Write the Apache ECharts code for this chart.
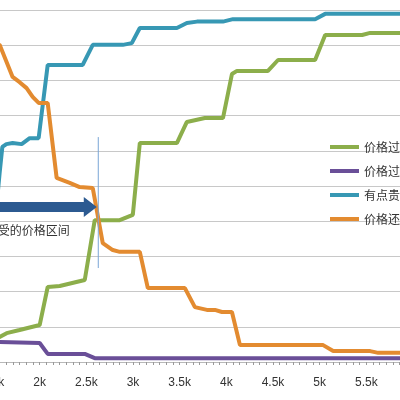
<!DOCTYPE html>
<html lang="zh">
<head>
    <meta charset="UTF-8">
    <title>价格敏感度</title>
    <style>
        html,body{
            padding: 0;
            margin: 0;
            width: 100%;
            height: 100%;
            background: #fff;
        }
        .chart{
            width: 400px;
            height: 400px;
        }
    </style>
    <script src="https://cdn.jsdelivr.net/npm/echarts@6/dist/echarts.min.js"></script>
</head>
<body>
<div class="chart"></div>
<script>
    // 价格点 (元) 和 累计百分比
    let tooHighX = [1500, 1571, 1646, 1785, 2000, 2086, 2215, 2483, 2590, 2858, 2998, 3073, 3470, 3577, 3770, 3964, 4060, 4114, 4446, 4554, 4951, 5059, 5455, 5541, 6000];
    let tooHighY = [6.8, 7.1, 8.2, 9.1, 10.5, 21.3, 21.6, 23.3, 40.3, 40.3, 41.8, 62.2, 62.2, 68.2, 69.3, 69.3, 81.8, 82.7, 82.7, 85.8, 85.8, 92.9, 92.9, 93.5, 93.5];

    let tooCheapX = [1500, 1571, 2000, 2086, 2483, 2590, 6000];
    let tooCheapY = [5.7, 5.7, 5.4, 2.3, 2.3, 1.1, 1.1];

    let expensiveX = [1540, 1571, 1600, 1643, 1710, 1807, 1893, 1989, 2086, 2461, 2569, 2891, 2987, 3073, 3470, 3577, 3685, 3964, 4071, 4951, 5059, 6000];
    let expensiveY = [45, 53.7, 61.1, 61.9, 62.2, 61.9, 63.6, 63.6, 84.4, 84.4, 90.1, 90.1, 90.6, 94.9, 94.9, 96.3, 96.7, 96.7, 97.4, 97.4, 98.9, 98.9];

    let okX = [1500, 1571, 1710, 1785, 1860, 1925, 1989, 2086, 2182, 2322, 2429, 2569, 2676, 2783, 2858, 3073, 3159, 3556, 3663, 3792, 3878, 3953, 4060, 4146, 5037, 5145, 5541, 5627, 6000];
    let okY = [90.1, 90.1, 81.0, 79.5, 77.8, 75.3, 73.6, 73.6, 52.3, 50.9, 49.7, 49.4, 33.8, 31.8, 31.3, 31.3, 21.0, 21.0, 15.6, 14.8, 14.8, 14.2, 14.2, 4.8, 4.8, 3.1, 3.1, 2.6, 2.6];

    let names = ['价格过高', '价格过低', '有点贵', '价格还可以'];
    let colors = ['#8cae4b', '#6a4f98', '#3798b4', '#e38b30'];

    // 可接受区间的标注 (价格, 百分比)
    let arrowTip = [2612, 44];
    let markX = 2628;
    let markFrom = 63.9;
    let markTo = 26.7;

    let zip = (xs, ys) => xs.map((x, i) => [x, ys[i]]);
    let lines = [
        zip(tooHighX, tooHighY),
        zip(tooCheapX, tooCheapY),
        zip(expensiveX, expensiveY),
        zip(okX, okY)
    ];

    let chart = echarts.init(document.querySelector('.chart'));

    let series = names.map((name, i) => ({
        name: name,
        type: 'line',
        data: lines[i],
        showSymbol: false,
        symbol: 'none',
        lineStyle: {width: 4, color: colors[i]},
        itemStyle: {color: colors[i]}
    }));

    let option = {
        animation: false,
        grid: {left: -7, right: -13, top: 10, bottom: 38, outerBoundsMode: 'none', containLabel: false},
        legend: {
            orient: 'vertical',
            left: 325,
            top: 135,
            icon: 'rect',
            itemWidth: 29,
            itemHeight: 4,
            itemGap: 10,
            textStyle: {
                fontFamily: 'Noto Sans CJK SC',
                fontSize: 12,
                lineHeight: 14,
                color: '#333'
            },
            data: names
        },
        xAxis: {
            type: 'value',
            min: 1500,
            max: 6000,
            interval: 500,
            axisLine: {lineStyle: {color: '#b8b8b8'}},
            axisTick: {show: true, length: 3, lineStyle: {color: '#999'}},
            minorTick: {show: true, splitNumber: 7, length: 3, lineStyle: {color: '#999'}},
            splitLine: {show: false},
            axisLabel: {
                margin: 15,
                fontSize: 12,
                color: '#333',
                fontFamily: 'Liberation Sans',
                hideOverlap: false,
                formatter: v => (v / 1000) + 'k'
            }
        },
        yAxis: {
            type: 'value',
            min: 0,
            max: 100,
            interval: 10,
            axisLine: {show: false},
            axisTick: {show: false},
            axisLabel: {show: false},
            splitLine: {lineStyle: {color: '#c8c8c8', width: 1}}
        },
        series: series
    };
    chart.setOption(option);

    // 标注：箭头、文字、竖线
    let toPx = p => chart.convertToPixel({xAxisIndex: 0, yAxisIndex: 0}, p);
    let tip = toPx(arrowTip);
    let markTop = toPx([markX, markFrom]);
    let markBottom = toPx([markX, markTo]);

    chart.setOption({
        graphic: [
            {
                type: 'polygon',
                z: 100,
                shape: {
                    points: [
                        [-20, tip[1] - 5], [tip[0] - 13, tip[1] - 5], [tip[0] - 13, tip[1] - 10],
                        [tip[0], tip[1]],
                        [tip[0] - 13, tip[1] + 10], [tip[0] - 13, tip[1] + 5], [-20, tip[1] + 5]
                    ]
                },
                style: {fill: '#2c5a91'}
            },
            {
                type: 'text',
                z: 100,
                x: tip[0] - 27,
                y: tip[1] + 23,
                style: {
                    text: '可接受的价格区间',
                    align: 'right',
                    verticalAlign: 'middle',
                    fontSize: 12,
                    fontFamily: 'Noto Sans CJK SC',
                    fill: '#333'
                }
            },
            {
                type: 'line',
                z: 100,
                shape: {x1: markTop[0], y1: markTop[1], x2: markBottom[0], y2: markBottom[1]},
                style: {stroke: '#7aa6d6', lineWidth: 1}
            }
        ]
    });
</script>
</body>
</html>
